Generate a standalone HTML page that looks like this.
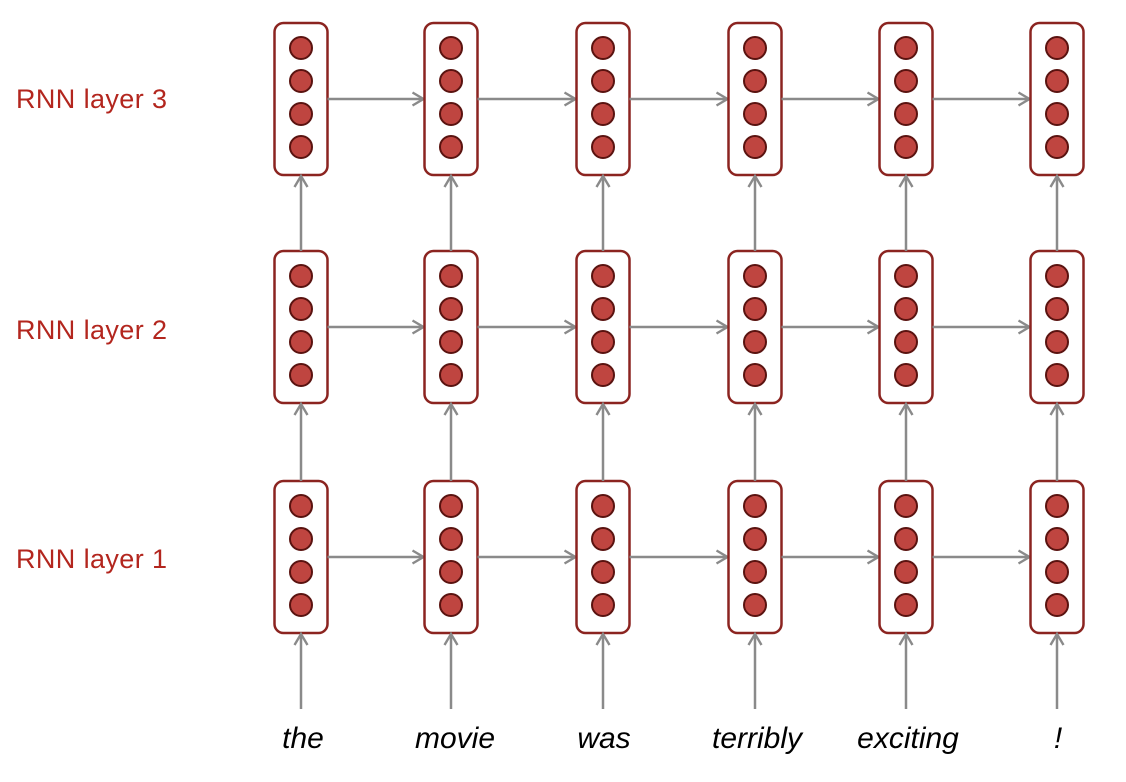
<!DOCTYPE html>
<html><head><meta charset="utf-8"><style>
html,body{margin:0;padding:0;background:#fff;width:1126px;height:782px;overflow:hidden}
svg{position:absolute;left:0;top:0}
.lab{font-family:"Liberation Sans",sans-serif;font-size:27px;fill:#b3261e;letter-spacing:0.4px}
.w{font-family:"Liberation Sans",sans-serif;font-style:italic;font-size:30px;fill:#000}
</style></head><body>
<svg id="s" width="1126" height="782" xmlns="http://www.w3.org/2000/svg">
<defs><marker id="a" markerWidth="16" markerHeight="16" refX="13" refY="8" orient="auto" markerUnits="userSpaceOnUse">
<path d="M2,1.5 L13,8 L2,14.5" fill="none" stroke="#8a8a8a" stroke-width="2.4"/></marker></defs>
<text class="lab" x="16" y="108">RNN layer 3</text>
<text class="lab" x="16" y="339">RNN layer 2</text>
<text class="lab" x="16" y="568">RNN layer 1</text>
<text class="w" x="303" y="748" text-anchor="middle">the</text>
<text class="w" x="455" y="748" text-anchor="middle">movie</text>
<text class="w" x="604" y="748" text-anchor="middle">was</text>
<text class="w" x="757" y="748" text-anchor="middle">terribly</text>
<text class="w" x="908" y="748" text-anchor="middle">exciting</text>
<text class="w" x="1058" y="748" text-anchor="middle">!</text>
<g id="g"></g>
</svg>
<script>
var cx=[301,451,603,755,906,1057],tops=[23,251,481],h=152,hw=26.5,o='';
var L='stroke="#8a8a8a" stroke-width="2.5" fill="none" marker-end="url(#a)"';
for(var r=0;r<3;r++){for(var c=0;c<6;c++){var x=cx[c],t=tops[r];
o+='<rect x="'+(x-hw)+'" y="'+t+'" width="'+(2*hw)+'" height="'+h+'" rx="9" fill="#fff" stroke="#8b2420" stroke-width="2.5"/>';
for(var k=0;k<4;k++)o+='<circle cx="'+x+'" cy="'+(t+25+k*33)+'" r="11" fill="#bf4540" stroke="#5a1310" stroke-width="2"/>';
if(c<5){var y=t+h/2;o+='<line x1="'+(x+hw)+'" y1="'+y+'" x2="'+(cx[c+1]-hw-1)+'" y2="'+y+'" '+L+'/>';}
if(r>0){o+='<line x1="'+x+'" y1="'+tops[r]+'" x2="'+x+'" y2="'+(tops[r-1]+h+1)+'" '+L+'/>';}
}}
for(var c=0;c<6;c++)o+='<line x1="'+cx[c]+'" y1="709" x2="'+cx[c]+'" y2="'+(tops[2]+h+1)+'" '+L+'/>';
document.getElementById('g').innerHTML=o;
</script>
</body></html>
